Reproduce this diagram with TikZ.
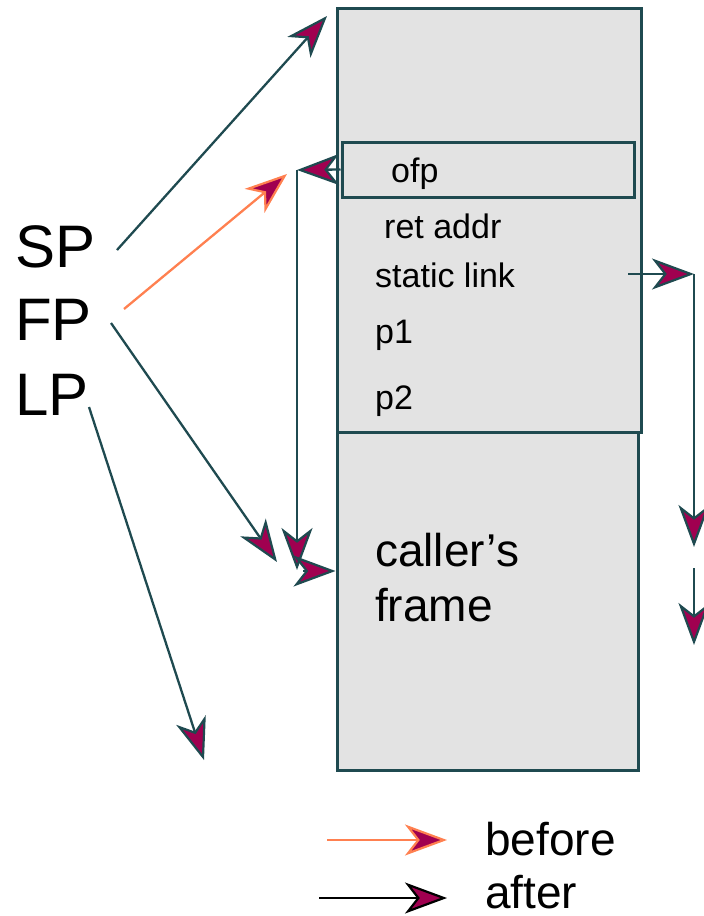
\documentclass[tikz,border=0pt]{standalone}
\usepackage{fontspec}
\setmainfont{Liberation Sans}
\usetikzlibrary{arrows.meta}
\definecolor{tealc}{RGB}{31,74,80}
\definecolor{magc}{RGB}{160,0,80}
\definecolor{orc}{RGB}{255,128,80}
\definecolor{boxfill}{RGB}{227,227,227}
\tikzset{
  framebox/.style={draw=tealc, fill=boxfill, line width=3pt, inner sep=0pt},
  smalltxt/.style={anchor=base west, inner sep=0pt, font=\fontsize{34}{40}\selectfont},
  bigtxt/.style={anchor=base west, inner sep=0pt, font=\fontsize{46}{54}\selectfont},
  regtxt/.style={anchor=base west, inner sep=0pt, font=\fontsize{60}{70}\selectfont},
  tipd/.style={-{Stealth[length=42pt, width=31pt, inset=12pt, fill=magc, line width=2.2pt]}},
  afterarr/.style={tipd, draw=tealc, line width=2.3pt},
  beforearr/.style={tipd, draw=orc, line width=2.3pt},
  legendafter/.style={tipd, draw=black, line width=2.3pt},
}
\begin{document}
\begin{tikzpicture}[x=1pt, y=-1pt]
\useasboundingbox (0,0) rectangle (704,916);
% frames
\node[framebox, minimum width=301pt, minimum height=338pt] (lower) at (487.5,601) {};
\node[framebox, minimum width=304pt, minimum height=424pt] (upper) at (489,220) {};
\node[framebox, minimum width=292pt, minimum height=55pt] (ofpbox) at (488,169.5) {};
% frame texts
\node[smalltxt] (tofp) at (391,182) {ofp};
\node[smalltxt] (tret) at (384,238) {ret addr};
\node[smalltxt] (tsl) at (375,287) {static link};
\node[smalltxt] (tp1) at (375,343) {p1};
\node[smalltxt] (tp2) at (375,409) {p2};
\node[bigtxt] (tcall) at (375,566) {caller’s};
\node[bigtxt] (tframe) at (375,621) {frame};
% registers
\node[regtxt] (sp) at (15,267) {SP};
\node[regtxt] (fp) at (15,340) {FP};
\node[regtxt] (lp) at (15,415) {LP};
% coordinates
\coordinate (spS) at (117,250);
\coordinate (spT) at (327,16);
\coordinate (fpoS) at (124,309);
\coordinate (fpoT) at (287,174);
\coordinate (fpS) at (111,323);
\coordinate (fpT) at (277,562);
\coordinate (lpS) at (89,407);
\coordinate (lpT) at (204,760);
\coordinate (ofpT) at (297,170);
\coordinate (ofpD) at (297,570);
\coordinate (cfS) at (303,571);
\coordinate (cfT) at (lower.west |- cfS);
\coordinate (slS) at (628,274);
\coordinate (slT) at (694,274);
\coordinate (slD1) at (694,547);
\coordinate (slS2) at (694,568);
\coordinate (slD2) at (694,645);
% arrows
\draw[afterarr] (spS) -- (spT);
\draw[beforearr] (fpoS) -- (fpoT);
\draw[afterarr] (fpS) -- (fpT);
\draw[afterarr] (lpS) -- (lpT);
\draw[afterarr] (ofpbox.west) -- (ofpT);
\draw[afterarr] (ofpT) -- (ofpD);
\draw[afterarr] (cfS) -- (cfT);
\draw[afterarr] (slS) -- (slT);
\draw[afterarr] (slT) -- (slD1);
\draw[afterarr] (slS2) -- (slD2);
% legend
\coordinate (lbS) at (327,840);
\coordinate (lbT) at (447,840);
\coordinate (laS) at (319,898);
\coordinate (laT) at (447,898);
\draw[beforearr] (lbS) -- (lbT);
\draw[legendafter] (laS) -- (laT);
\node[bigtxt] (tbefore) at (485,855) {before};
\node[bigtxt] (tafter) at (485,908) {after};
\end{tikzpicture}
\end{document}
